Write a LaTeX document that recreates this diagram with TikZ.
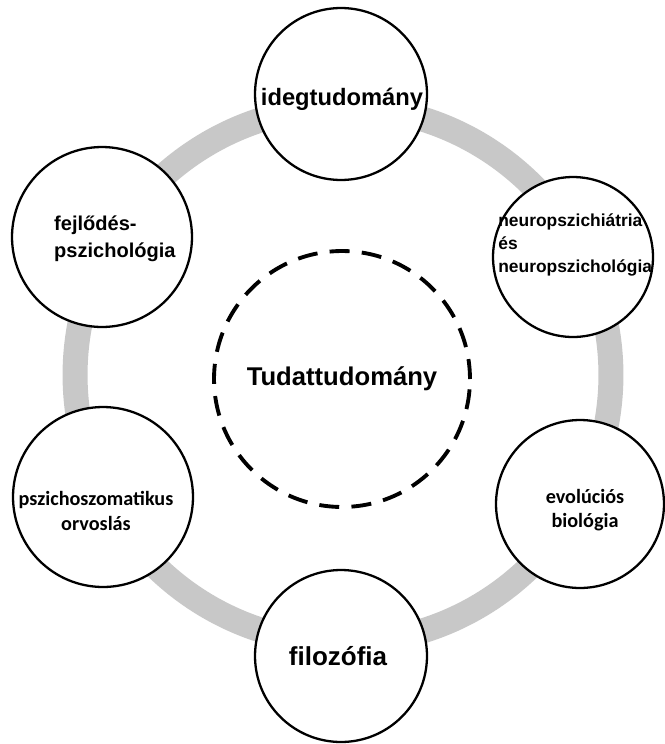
\documentclass[tikz,border=0pt]{standalone}
\usepackage{fontspec}
\setmainfont{Liberation Sans}[BoldFont={Liberation Sans Bold}]
\newfontfamily\carlito{Carlito}[BoldFont={Carlito Bold}]
\usetikzlibrary{positioning}
\definecolor{ringgray}{RGB}{200, 200, 200}

\begin{document}
\begin{tikzpicture}[
    x=0.02cm, y=-0.02cm,
    field/.style={draw, circle, line width=1.3pt, fill=white, inner sep=0pt},
    core/.style={circle, draw, line width=2.2pt, dash pattern=on 0.4cm off 0.245cm, minimum size=5.12cm, inner sep=0pt},
    bigtext/.style={font=\bfseries\fontsize{13.5}{16}\selectfont},
    smalltext/.style={font=\bfseries\fontsize{11.4}{15.3}\selectfont, align=left, anchor=west},
    calitext/.style={font=\carlito\bfseries\fontsize{11.5}{14}\selectfont, align=center}
]
    \useasboundingbox (0,0) rectangle (665,744);

    % Gray ring behind the fields
    \draw[ringgray, line width=0.5cm] (343,375) circle [radius=5.36cm];

    % Six fields round the ring
    \node[field, minimum size=3.44cm] (neuro) at (341,94) {};
    \node[field, minimum size=3.2cm] (psychiatry) at (573,257) {};
    \node[field, minimum size=3.36cm] (evolution) at (580,504) {};
    \node[field, minimum size=3.44cm] (philosophy) at (341,656) {};
    \node[field, minimum size=3.6cm] (psychosomatic) at (103,497) {};
    \node[field, minimum size=3.6cm] (development) at (102,237) {};

    % Labels of the fields
    \node[bigtext] (neuro-text) at (342,99) {idegtudomány};
    \node[smalltext, font=\bfseries\fontsize{9.9}{13}\selectfont, inner sep=0pt] (psychiatry-text) at (498,245) {neuropszichiátria\\és\\neuropszichológia};
    \node[calitext] (evolution-text) at (585,510) {evolúciós\\biológia};
    \node[bigtext, font=\bfseries\fontsize{14.8}{17}\selectfont] (philosophy-text) at (338,656) {filozófia};
    \node[calitext] (psychosomatic-text) at (96,511) {pszichoszomatikus\\orvoslás};
    \node[smalltext] (development-text) at (48,239) {fejlődés-\\pszichológia};

    % Centre
    \node[core, font=\bfseries\fontsize{14.6}{17}\selectfont] (mind) at (342,379) {Tudattudomány};
\end{tikzpicture}
\end{document}
